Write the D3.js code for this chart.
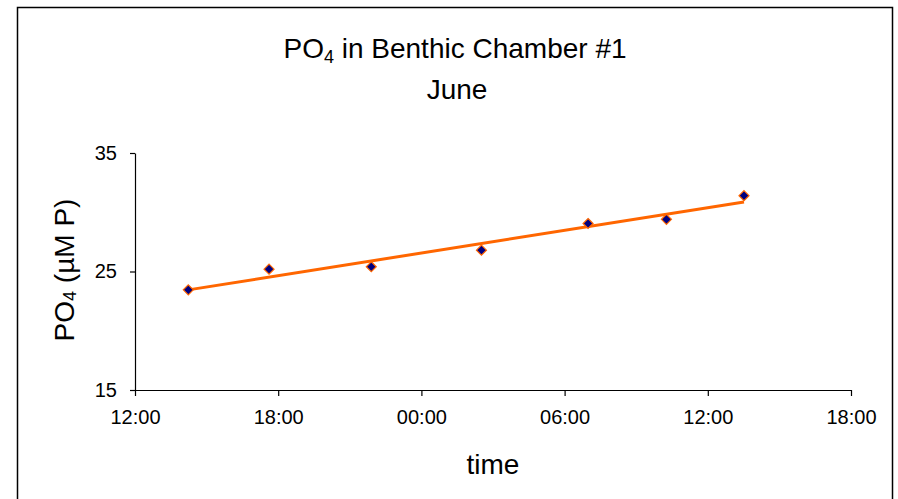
<!DOCTYPE html>
<html>
<head>
<meta charset="utf-8">
<script src="https://cdn.jsdelivr.net/npm/d3@7"></script>
<style>
  body { margin: 0; background: #fff; }
  text { font-family: "Liberation Sans", Arial, sans-serif; fill: #000; }
</style>
</head>
<body>
<script>
// sample times (June, chamber #1) and PO4 concentrations
var sampleTimes = ["06-10 14:14", "06-10 17:37", "06-10 21:54", "06-11 02:31",
                   "06-11 06:59", "06-11 10:16", "06-11 13:31"];
var po4Values = [23.45, 25.2, 25.4, 26.8, 29.05, 29.4, 31.4];
var yTicks = [15, 25, 35];
var timeStart = "06-10 12:00", timeEnd = "06-11 18:00";

var orange = "#FF6600";
var navy = "#000080";

var parseT = d3.timeParse("%Y-%m-%d %H:%M");
function toDate(s) { return parseT("2004-" + s); }

var data = sampleTimes.map(function (t, i) {
    return { time: toDate(t), value: po4Values[i] };
});

var width = 898, height = 499;
var margin = { left: 135, right: 47, top: 153, bottom: 109 };

var svg = d3.select("body").append("svg")
    .attr("width", width)
    .attr("height", height);

// outer frame
svg.append("rect")
    .attr("x", 17.5).attr("y", 7.5)
    .attr("width", 875).attr("height", 520)
    .attr("fill", "none")
    .attr("stroke", "#000")
    .attr("stroke-width", 1.5);

var x = d3.scaleTime()
    .domain([toDate(timeStart), toDate(timeEnd)])
    .range([margin.left, width - margin.right]);

var y = d3.scaleLinear()
    .domain([15, 35])
    .range([height - margin.bottom, margin.top]);

// axes
var xAxis = svg.append("g")
    .attr("transform", "translate(0," + y(15) + ")")
    .call(d3.axisBottom(x)
        .ticks(d3.timeHour.every(6))
        .tickFormat(d3.timeFormat("%H:%M"))
        .tickSizeInner(6).tickSizeOuter(0).tickPadding(14));

var yAxis = svg.append("g")
    .attr("transform", "translate(" + x.range()[0] + ",0)")
    .call(d3.axisLeft(y).tickValues(yTicks)
        .tickSizeInner(5).tickSizeOuter(0).tickPadding(13));

[xAxis, yAxis].forEach(function (g) {
    g.select(".domain").attr("stroke", "#000").attr("stroke-width", 1.2);
    g.selectAll(".tick line").attr("stroke", "#000").attr("stroke-width", 1.2);
    g.selectAll(".tick text")
        .style("font-family", "'Liberation Sans', Arial, sans-serif")
        .style("font-size", "20px");
});
xAxis.selectAll(".tick text").attr("dy", "0.71em");

// linear trend line (least squares fit of the samples)
var xs = data.map(function (d) { return +d.time; });
var mx = d3.mean(xs), my = d3.mean(po4Values);
var sxy = d3.sum(data, function (d) { return (+d.time - mx) * (d.value - my); });
var sxx = d3.sum(xs, function (v) { return (v - mx) * (v - mx); });
var slope = sxy / sxx;
var ends = [d3.min(xs), d3.max(xs)].map(function (v) {
    return { time: new Date(v), value: my + slope * (v - mx) };
});

svg.append("path")
    .datum(ends)
    .attr("fill", "none")
    .attr("stroke", orange)
    .attr("stroke-width", 3)
    .attr("d", d3.line()
        .x(function (d) { return x(d.time); })
        .y(function (d) { return y(d.value); }));

// diamond markers
svg.selectAll(".pt")
    .data(data)
    .enter()
    .append("path")
    .attr("class", "pt")
    .attr("transform", function (d) { return "translate(" + x(d.time) + "," + y(d.value) + ")"; })
    .attr("d", "M0,-5L5,0L0,5L-5,0Z")
    .attr("fill", navy)
    .attr("stroke", orange)
    .attr("stroke-width", 1.2);

// titles
var title = svg.append("text")
    .attr("x", 455).attr("y", 58)
    .attr("text-anchor", "middle")
    .style("font-size", "28px");
title.append("tspan").text("PO");
title.append("tspan").attr("dy", 5).style("font-size", "18px").text("4");
title.append("tspan").attr("dy", -5).text(" in Benthic Chamber #1");

svg.append("text")
    .attr("x", 457).attr("y", 99)
    .attr("text-anchor", "middle")
    .style("font-size", "28px")
    .text("June");

var ylab = svg.append("text")
    .attr("transform", "translate(74,270) rotate(-90)")
    .attr("text-anchor", "middle")
    .style("font-size", "28px");
ylab.append("tspan").text("PO");
ylab.append("tspan").attr("dy", 2).style("font-size", "18px").text("4");
ylab.append("tspan").attr("dy", -2).text(" (µM P)");

svg.append("text")
    .attr("x", 493).attr("y", 474)
    .attr("text-anchor", "middle")
    .style("font-size", "28px")
    .text("time");
</script>
</body>
</html>
